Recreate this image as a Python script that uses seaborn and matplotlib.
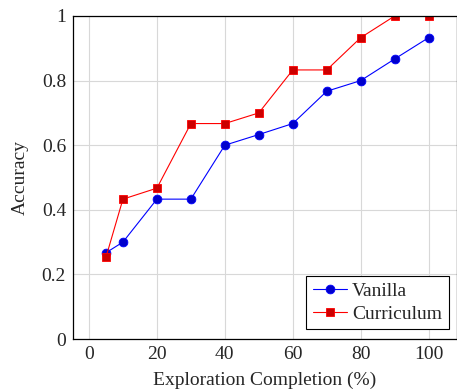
import numpy as np
import pandas as pd
import matplotlib
matplotlib.use("Agg")
import matplotlib.pyplot as plt
import seaborn as sns

# data
completion = [5, 10, 20, 30, 40, 50, 60, 70, 80, 90, 100]
vanilla = [0.267, 0.300, 0.433, 0.433, 0.600, 0.633, 0.667, 0.767, 0.800, 0.867, 0.933]
curriculum = [0.253, 0.433, 0.467, 0.667, 0.667, 0.700, 0.833, 0.833, 0.933, 1.000, 1.000]
x_ticks = [0, 20, 40, 60, 80, 100]
y_ticks = [0, 0.2, 0.4, 0.6, 0.8, 1]
y_tick_labels = ["0", "0.2", "0.4", "0.6", "0.8", "1"]

sns.set_style("whitegrid")
plt.rcParams['font.family'] = ['Liberation Serif', 'DejaVu Serif']

fs = 14
fig = plt.figure(figsize=(4.57, 3.89), dpi=100)
ax = fig.add_axes([73 / 457, 1 - 339 / 389, (456.5 - 73) / 457, (339 - 16) / 389])

df = pd.DataFrame({"completion": completion, "Vanilla": vanilla, "Curriculum": curriculum})

sns.lineplot(data=df, x="completion", y="Vanilla", ax=ax, color="blue", lw=0.8,
             marker="o", markersize=6.3, markerfacecolor="#0000cc", markeredgecolor="blue",
             markeredgewidth=0.6, label="Vanilla")
sns.lineplot(data=df, x="completion", y="Curriculum", ax=ax, color="red", lw=0.8,
             marker="s", markersize=6.0, markerfacecolor="#cc0000", markeredgecolor="red",
             markeredgewidth=0.6, label="Curriculum")

ax.set_xlim(-4.7, 108.2)
ax.set_ylim(0, 1)
ax.set_xticks(x_ticks)
ax.set_yticks(y_ticks)
ax.set_yticklabels(y_tick_labels)
ax.grid(True, color="#d8d8d8", lw=0.8)
ax.tick_params(axis="both", direction="in", length=3, color="#b0b0b0", labelsize=fs, pad=5)
for s in ax.spines.values():
    s.set_color("black")
    s.set_linewidth(0.9)
ax.set_xlabel("Exploration Completion (%)", fontsize=fs, labelpad=6)
ax.set_ylabel("Accuracy", fontsize=fs, labelpad=9)

leg = ax.legend(loc="lower right", bbox_to_anchor=(0.98, 0.03), fontsize=fs, frameon=True,
                fancybox=False, borderaxespad=0, handlelength=1.75, handletextpad=0.25,
                borderpad=0.35, labelspacing=0.25)
leg.get_frame().set_edgecolor("black")
leg.get_frame().set_linewidth(0.8)
leg.get_frame().set_alpha(1)

fig.savefig("out.png", dpi=100)
